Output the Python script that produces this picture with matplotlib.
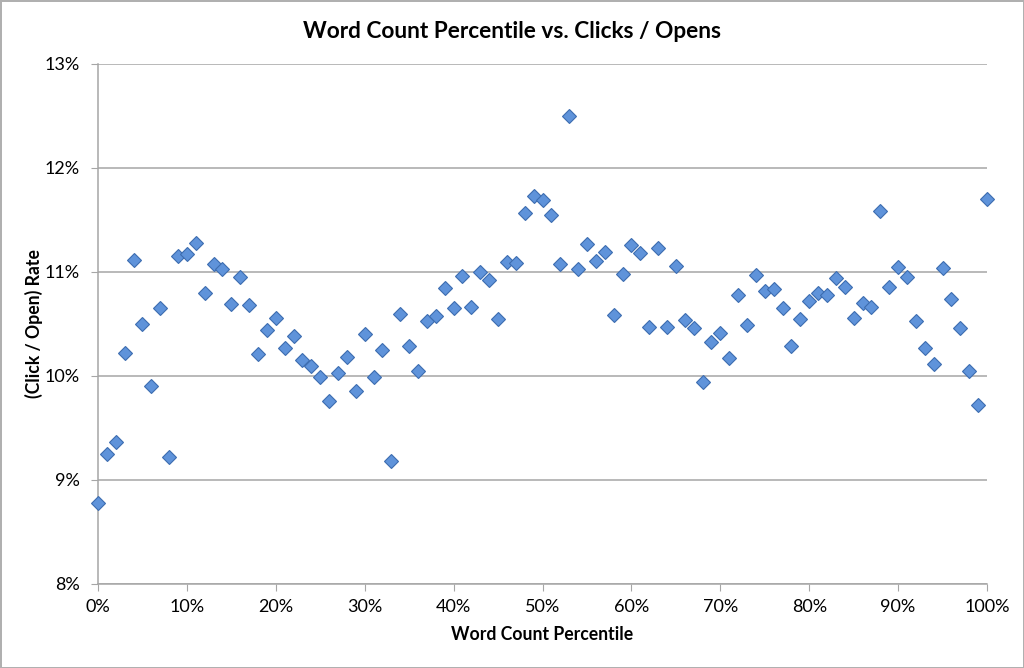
import matplotlib
matplotlib.use("Agg")
import matplotlib.pyplot as plt
from matplotlib.ticker import FuncFormatter, MultipleLocator

plt.rcParams['font.family'] = ['Lato', 'DejaVu Sans']

# word count percentile (0..100 %) and click / open rate (%)
percentile = list(range(0, 101))
rate = [
    8.78, 9.25, 9.37, 10.22, 11.12, 10.50, 9.90, 10.65, 9.22, 11.15,
    11.17, 11.28, 10.80, 11.08, 11.03, 10.69, 10.95, 10.68, 10.21, 10.44,
    10.56, 10.27, 10.38, 10.15, 10.10, 9.99, 9.76, 10.03, 10.18, 9.86,
    10.40, 9.99, 10.25, 9.18, 10.60, 10.29, 10.05, 10.53, 10.58, 10.85,
    10.65, 10.96, 10.66, 11.00, 10.92, 10.55, 11.10, 11.09, 11.57, 11.73,
    11.69, 11.55, 11.08, 12.50, 11.03, 11.27, 11.11, 11.19, 10.59, 10.98,
    11.26, 11.18, 10.47, 11.23, 10.47, 11.06, 10.54, 10.46, 9.94, 10.33,
    10.41, 10.17, 10.78, 10.49, 10.97, 10.82, 10.84, 10.65, 10.29, 10.55,
    10.72, 10.80, 10.78, 10.94, 10.86, 10.56, 10.70, 10.66, 11.59, 10.86,
    11.05, 10.95, 10.53, 10.27, 10.12, 11.04, 10.74, 10.46, 10.05, 9.72,
    11.70,
]

grey = "#a6a6a6"
fill = "#5f93da"
edge = "#3d6db0"

fig = plt.figure(figsize=(10.24, 6.68), dpi=100)
fig.patch.set_edgecolor("#b0b0b0")
fig.patch.set_linewidth(2)
ax = fig.add_axes([98 / 1024, 1 - 584 / 668, 889 / 1024, 520 / 668])

ax.plot(percentile, rate, linestyle="none", marker="D", markersize=7,
        markerfacecolor=fill, markeredgecolor=edge, markeredgewidth=0.8,
        clip_on=False, zorder=3)

ax.set_xlim(0, 100)
ax.set_ylim(8, 13)
ax.xaxis.set_major_locator(MultipleLocator(10))
ax.yaxis.set_major_locator(MultipleLocator(1))
ax.xaxis.set_major_formatter(FuncFormatter(lambda v, p: "{:.0f}%".format(v)))
ax.yaxis.set_major_formatter(FuncFormatter(lambda v, p: "{:.0f}%".format(v)))

ax.grid(axis="y", color=grey, linewidth=1.1)
ax.set_axisbelow(True)
for s in ("top", "right"):
    ax.spines[s].set_visible(False)
for s in ("left", "bottom"):
    ax.spines[s].set_color(grey)
    ax.spines[s].set_linewidth(1.1)
ax.tick_params(axis="both", direction="out", length=5, color=grey,
               labelsize=13, labelcolor="black")
ax.tick_params(axis="y", pad=8)
ax.tick_params(axis="x", pad=6)

# title is centred on the whole figure, not on the axes
fig.text(0.5, 1 - 31 / 668, "Word Count Percentile vs. Clicks / Opens",
         fontsize=16.3, fontweight="bold", ha="center", va="center")
ax.set_xlabel("Word Count Percentile", fontsize=12.7, fontweight="bold",
              labelpad=8)
ax.set_ylabel("(Click / Open) Rate", fontsize=12.7, fontweight="bold",
              labelpad=1)

fig.savefig("out.png", dpi=100, edgecolor=fig.get_edgecolor())
